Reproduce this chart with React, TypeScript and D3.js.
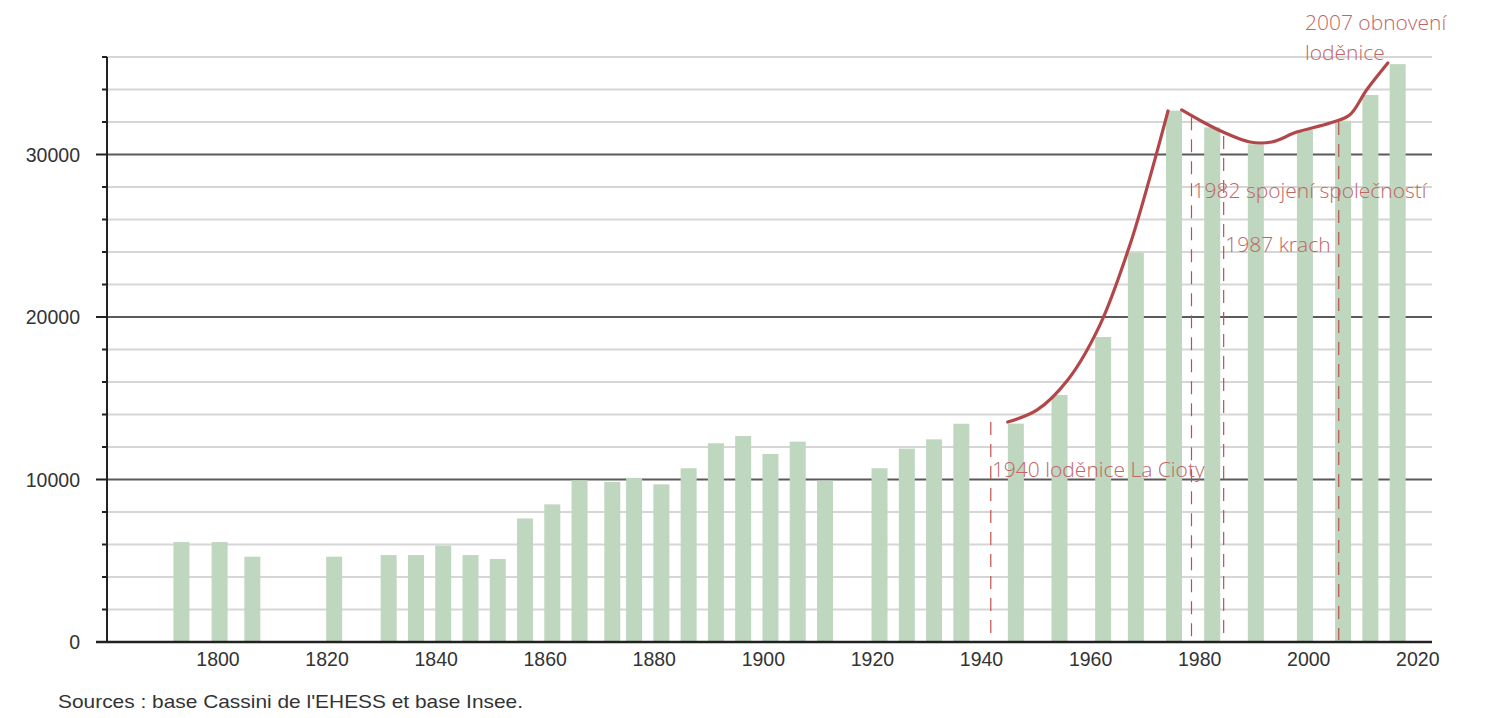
import { useEffect, useRef } from 'react';
import * as d3 from 'd3';

// census years and population of La Ciotat
const years = [1793, 1800, 1806, 1821, 1831, 1836, 1841, 1846, 1851, 1856, 1861, 1866, 1872, 1876, 1881, 1886, 1891, 1896, 1901, 1906, 1911, 1921, 1926, 1931, 1936, 1946, 1954, 1962, 1968, 1975, 1982, 1990, 1999, 2006, 2011, 2016];
const population = [6150, 6150, 5250, 5250, 5350, 5350, 5930, 5350, 5110, 7600, 8470, 9950, 9850, 10100, 9700, 10690, 12230, 12680, 11570, 12330, 9930, 10690, 11900, 12470, 13430, 13440, 15200, 18770, 23950, 32700, 31670, 30630, 31500, 32080, 33660, 35560];

const xTicks = [1800, 1820, 1840, 1860, 1880, 1900, 1920, 1940, 1960, 1980, 2000, 2020];
const yMajor = [0, 10000, 20000, 30000];
const yMinor = d3.range(0, 36001, 2000);

// hand-drawn trend, two strokes: [year, value]
const trendA: [number, number][] = [[1944.8, 13540], [1950.2, 14280], [1955.8, 16120], [1961.7, 19500], [1967.2, 24430], [1970.9, 28620], [1974.2, 32680]];
const trendB: [number, number][] = [[1976.7, 32740], [1980.6, 32000], [1984.3, 31380], [1989.2, 30770], [1993.2, 30770], [1997.8, 31380], [2003.9, 31940], [2007.5, 32430], [2010.6, 33970], [2014.5, 35630]];

// event markers: dashed line position and top
const markerYears = [1941.7, 1978.5, 1984.4, 2005.5];
const markerTops = [13540, 32300, 31140, 32000];

const notes = [
  { text: '1940 loděnice La Cioty', year: 1941.9, value: 10150 },
  { text: '1982 spojení společností', year: 1978.7, value: 27320 },
  { text: '1987 krach', year: 1984.7, value: 24000 },
  { text: '2007 obnovení', year: 1999.3, value: 37660 },
  { text: 'loděnice', year: 1999.3, value: 35820 },
];

export default function App() {
  const svgRef = useRef<SVGSVGElement>(null);

  useEffect(() => {
    if (!svgRef.current) return;
    const width = 1491;
    const height = 718;
    const svg = d3.select(svgRef.current);
    svg.selectAll('*').remove();

    const left = 107, right = 1432, bottom = 642, top = 57;
    const x = d3.scaleLinear().domain([1779.65, 2022.6]).range([left, right]);
    const y = d3.scaleLinear().domain([0, 36000]).range([bottom, top]);
    const barW = 16;
    const axisFont = '"Liberation Sans", Arial, sans-serif';
    const noteFont = '"Open Sans", sans-serif';

    svg.attr('width', width).attr('height', height);

    // minor grid
    svg.append('g')
      .selectAll('line')
      .data(yMinor.filter(v => v % 10000 !== 0))
      .join('line')
      .attr('x1', left).attr('x2', right)
      .attr('y1', d => y(d)).attr('y2', d => y(d))
      .style('stroke', '#d6d6d6').style('stroke-width', 2);

    // major grid
    svg.append('g')
      .selectAll('line')
      .data(yMajor.filter(v => v > 0))
      .join('line')
      .attr('x1', left).attr('x2', right)
      .attr('y1', d => y(d)).attr('y2', d => y(d))
      .style('stroke', '#5a5a5a').style('stroke-width', 2);

    // bars
    svg.append('g')
      .selectAll('rect')
      .data(years)
      .join('rect')
      .attr('x', d => x(d + 0.3) - barW / 2)
      .attr('width', barW)
      .attr('y', (d, i) => y(population[i]))
      .attr('height', (d, i) => bottom - y(population[i]))
      .attr('fill', '#bfd6bf');

    // y axis with ticks
    const yAxis = svg.append('g');
    yAxis.append('line')
      .attr('x1', left).attr('x2', left).attr('y1', top).attr('y2', bottom)
      .style('stroke', '#222').style('stroke-width', 2);
    yAxis.selectAll('line.tick')
      .data(yMinor)
      .join('line')
      .attr('class', 'tick')
      .attr('x1', d => (d % 10000 === 0 ? left - 11 : left - 5)).attr('x2', left)
      .attr('y1', d => y(d)).attr('y2', d => y(d))
      .style('stroke', '#222').style('stroke-width', 2);
    yAxis.selectAll('text')
      .data(yMajor)
      .join('text')
      .attr('x', 80)
      .attr('y', d => y(d) + 7)
      .attr('text-anchor', 'end')
      .style('font-family', axisFont).style('font-size', '19.5px').style('fill', '#333')
      .text(d => String(d));

    // x axis
    svg.append('line')
      .attr('x1', left - 11).attr('x2', right).attr('y1', bottom).attr('y2', bottom)
      .style('stroke', '#222').style('stroke-width', 2.5);
    svg.append('g')
      .selectAll('text')
      .data(xTicks)
      .join('text')
      .attr('x', d => x(d))
      .attr('y', 666)
      .attr('text-anchor', 'middle')
      .style('font-family', axisFont).style('font-size', '19.5px').style('fill', '#333')
      .text(d => String(d));

    // dashed event markers
    svg.append('g')
      .selectAll('line')
      .data(markerYears)
      .join('line')
      .attr('x1', d => x(d)).attr('x2', d => x(d))
      .attr('y1', (d, i) => y(markerTops[i])).attr('y2', bottom - 2)
      .style('stroke', '#c0504d').style('stroke-width', 1.2)
      .style('stroke-dasharray', '13,9');

    // trend strokes
    const line = d3.line<[number, number]>()
      .x(d => x(d[0]))
      .y(d => y(d[1]))
      .curve(d3.curveCatmullRom.alpha(0.5));
    svg.append('g')
      .selectAll('path')
      .data([trendA, trendB])
      .join('path')
      .attr('d', d => line(d))
      .attr('fill', 'none')
      .style('stroke', '#b2474a').style('stroke-width', 3.2)
      .style('stroke-linecap', 'round');

    // notes
    svg.append('g')
      .selectAll('text')
      .data(notes)
      .join('text')
      .attr('x', d => x(d.year))
      .attr('y', d => y(d.value))
      .style('font-family', noteFont).style('font-weight', 300)
      .style('font-size', '21px').style('fill', '#bf6566')
      .text(d => d.text);

    // source
    svg.append('text')
      .attr('x', 58).attr('y', 708)
      .attr('textLength', 465).attr('lengthAdjust', 'spacingAndGlyphs')
      .style('font-family', axisFont).style('font-size', '19px').style('fill', '#333')
      .text("Sources : base Cassini de l'EHESS et base Insee.");
  }, []);

  return (
    <div style={{ position: 'absolute', left: 0, top: 0, background: '#fff' }}>
      <svg ref={svgRef} style={{ display: 'block' }}></svg>
    </div>
  );
}
